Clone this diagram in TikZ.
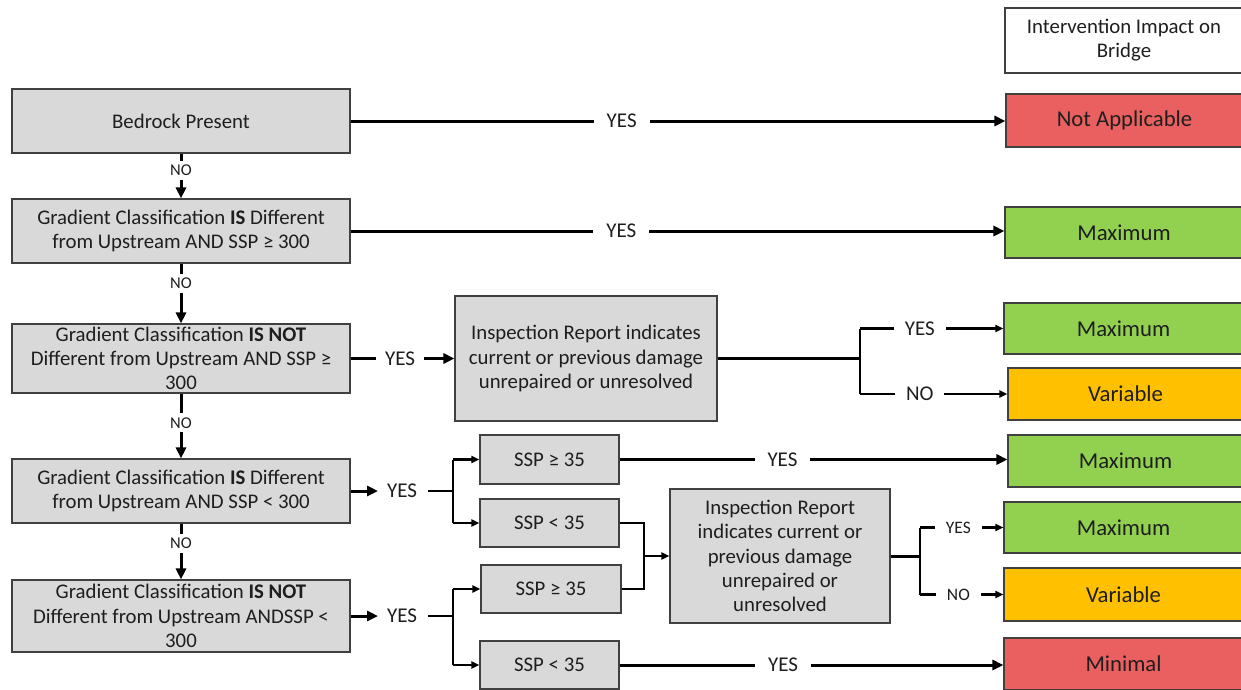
\documentclass[tikz,border=0pt]{standalone}
\usepackage{fontspec}
\setmainfont{Carlito}
\usetikzlibrary{arrows.meta,calc}
\definecolor{boxgray}{HTML}{D9D9D9}
\definecolor{bord}{HTML}{404040}
\definecolor{impred}{HTML}{EA6060}
\definecolor{impgreen}{HTML}{92D050}
\definecolor{impor}{HTML}{FFC000}
\definecolor{txt}{HTML}{1E1E1E}
\begin{document}
\begin{tikzpicture}[x=1pt,y=-1pt,
  box/.style={draw=bord, line width=1.1pt, fill=boxgray, align=center, inner sep=0pt, text=txt,
    font=\fontsize{20.8}{24.3}\selectfont},
  res/.style={draw=bord, line width=1.1pt, align=center, inner sep=0pt, text=txt,
    font=\fontsize{22.7}{26}\selectfont},
  hdr/.style={draw=bord, line width=1.1pt, fill=white, align=center, inner sep=0pt, text=txt,
    font=\fontsize{20.8}{24}\selectfont},
  lbl/.style={fill=white, inner xsep=13pt, inner ysep=2pt, text=txt, font=\fontsize{21}{24}\selectfont},
  nolbl/.style={fill=white, inner xsep=2pt, inner ysep=4pt, text=txt, font=\fontsize{16.5}{18}\selectfont},
  slbl/.style={fill=white, inner xsep=11pt, inner ysep=2pt, text=txt, font=\fontsize{17.5}{20}\selectfont},
  main/.style={line width=3pt, black},
  brl/.style={line width=2.2pt, black},
  arr/.style={-{Triangle[length=11pt,width=10pt]}},
  sarr/.style={-{Triangle[length=8pt,width=7pt]}},
]
\useasboundingbox (0,0) rectangle (1241,689);

% header and results
\node[hdr, minimum width=238pt, minimum height=65pt] (hd) at (1124,40.5) {Intervention Impact on\\Bridge};
\node[res, fill=impred, minimum width=237pt, minimum height=53pt] (na) at (1124.5,120.5) {Not Applicable};
\node[res, fill=impgreen, minimum width=238pt, minimum height=51pt] (mx1) at (1124,232.5) {Maximum};
\node[res, fill=impgreen, minimum width=239pt, minimum height=51pt] (mx2) at (1123.5,328.5) {Maximum};
\node[res, fill=impor, minimum width=235pt, minimum height=52pt] (var1) at (1125.5,394) {Variable};
\node[res, fill=impgreen, minimum width=235pt, minimum height=52pt] (mx3) at (1125.5,461) {Maximum};
\node[res, fill=impgreen, minimum width=239pt, minimum height=51pt] (mx4) at (1123.5,527.5) {Maximum};
\node[res, fill=impor, minimum width=239pt, minimum height=53pt] (var2) at (1123.5,594.5) {Variable};
\node[res, fill=impred, minimum width=239pt, minimum height=52pt] (mn) at (1123.5,664) {Minimal};

% left decision boxes
\node[box, minimum width=338pt, minimum height=64pt] (b1) at (181,121) {Bedrock Present};
\node[box, minimum width=338pt, minimum height=64pt] (b2) at (181,231) {Gradient Classification \textbf{IS} Different\\from Upstream AND SSP ≥ 300};
\node[box, minimum width=338pt, minimum height=69pt] (b3) at (181,358.5) {Gradient Classification \textbf{IS NOT}\\Different from Upstream AND SSP ≥\\300};
\node[box, minimum width=338pt, minimum height=64pt] (b4) at (181,491) {Gradient Classification \textbf{IS} Different\\from Upstream AND SSP < 300};
\node[box, minimum width=338pt, minimum height=72pt] (b5) at (181,616) {Gradient Classification \textbf{IS NOT}\\Different from Upstream ANDSSP <\\300};

% inspection boxes
\node[box, minimum width=262pt, minimum height=125pt] (ins1) at (586,358.5) {Inspection Report indicates\\current or previous damage\\unrepaired or unresolved};
\node[box, minimum width=220pt, minimum height=134pt] (ins2) at (780,556) {Inspection Report\\indicates current or\\previous damage\\unrepaired or\\unresolved};

% SSP boxes
\node[box, minimum width=139pt, minimum height=49pt] (sa) at (549.5,459.5) {SSP ≥ 35};
\node[box, minimum width=139pt, minimum height=48pt] (sb) at (549.5,523) {SSP < 35};
\node[box, minimum width=140pt, minimum height=48pt] (sc) at (551,589) {SSP ≥ 35};
\node[box, minimum width=139pt, minimum height=48pt] (sd) at (549.5,665) {SSP < 35};

% NO connectors down the left
\draw[main, arr] (b1.south) -- node[nolbl, pos=0.37] {NO} (b2.north);
\draw[main, arr] (b2.south) -- node[nolbl, pos=0.33] {NO} (b3.north);
\draw[main, arr] (b3.south) -- node[nolbl, pos=0.45] {NO} (b4.north);
\draw[main, arr] (b4.south) -- node[nolbl, pos=0.35] {NO} (b5.north);

% long YES connectors
\draw[main, arr] (b1.east) -- node[lbl, pos=0.414] {YES} (b1.east -| na.west);
\draw[main, arr] (b2.east) -- node[lbl, pos=0.414] {YES} (b2.east -| mx1.west);
\draw[main, arr] (sa.east) -- node[lbl, pos=0.42] {YES} (sa.east -| mx3.west);
\draw[main, arr] (sd.east) -- node[lbl, pos=0.426] {YES} (sd.east -| mn.west);

% b3 -> ins1
\draw[main, arr] (b3.east) -- node[lbl, inner xsep=9pt, pos=0.476] {YES} (ins1.west);

% ins1 branch
\coordinate (j1) at (860,358.5);
\draw[main] (ins1.east) -- (j1);
\draw[brl] (j1 |- mx2.west) -- (j1 |- var1.west);
\draw[brl, sarr] (j1 |- mx2.west) -- node[lbl, inner xsep=11pt, pos=0.417] {YES} (mx2.west);
\draw[brl, sarr] (j1 |- var1.west) -- node[lbl, inner xsep=11pt, pos=0.405] {NO} (var1.west);

% b4 branch
\node[lbl, inner xsep=0pt] (y4) at (402,491) {YES};
\coordinate (j4) at (453,491);
\draw[main, arr] (b4.east) -- (378,491);
\draw[brl] (428,491) -- (j4);
\draw[brl] (j4 |- sa.west) -- (j4 |- sb.west);
\draw[brl, sarr] (j4 |- sa.west) -- (sa.west);
\draw[brl, sarr] (j4 |- sb.west) -- (sb.west);

% b5 branch
\node[lbl, inner xsep=0pt] (y5) at (402,616) {YES};
\coordinate (j5) at (453,616);
\draw[main, arr] (b5.east) -- (378,616);
\draw[brl] (428,616) -- (j5);
\draw[brl] (j5 |- sc.west) -- (j5 |- sd.west);
\draw[brl, sarr] (j5 |- sc.west) -- (sc.west);
\draw[brl, sarr] (j5 |- sd.west) -- (sd.west);

% merge into ins2
\coordinate (m) at (644,556);
\draw[brl] (sb.east) -- (sb.east -| m) -- (m);
\draw[brl] (sc.east) -- (sc.east -| m) -- (m);
\draw[brl, sarr] (m) -- (ins2.west);

% ins2 branch
\coordinate (j6) at (920,556);
\draw[main] (ins2.east) -- (j6);
\draw[brl] (j6 |- mx4.west) -- (j6 |- var2.west);
\draw[brl, sarr] (j6 |- mx4.west) -- node[slbl, pos=0.46] {YES} (mx4.west);
\draw[brl, sarr] (j6 |- var2.west) -- node[slbl, pos=0.46] {NO} (var2.west);
\end{tikzpicture}
\end{document}
